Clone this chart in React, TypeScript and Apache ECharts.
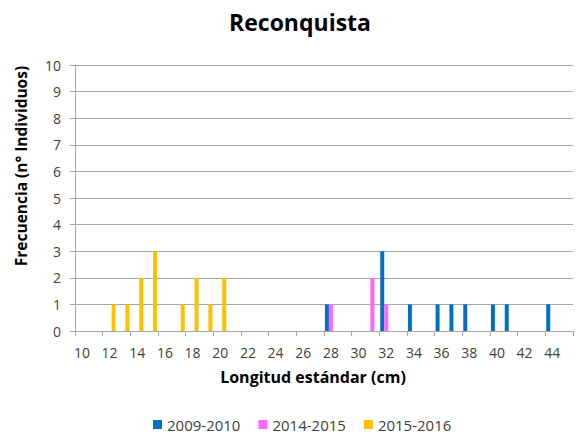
import React, { useEffect, useRef } from "react";
import * as echarts from "echarts";

const categories = [
  "10","11","12","13","14","15","16","17","18","19",
  "20","21","22","23","24","25","26","27","28","29",
  "30","31","32","33","34","35","36","37","38","39",
  "40","41","42","43","44","45",
];
const s2009 = [
  0,0,0,0,0,0,0,0,0,0,
  0,0,0,0,0,0,0,0,1,0,
  0,0,3,0,1,0,1,1,1,0,
  1,1,0,0,1,0,
];
const s2014 = [
  0,0,0,0,0,0,0,0,0,0,
  0,0,0,0,0,0,0,0,1,0,
  0,2,1,0,0,0,0,0,0,0,
  0,0,0,0,0,0,
];
const s2015 = [
  0,0,1,1,2,3,0,1,2,1,
  2,0,0,0,0,0,0,0,0,0,
  0,0,0,0,0,0,0,0,0,0,
  0,0,0,0,0,0,
];
const seriesNames = ["2009-2010", "2014-2015", "2015-2016"];
const colors = ["#0070C0", "#FF66FF", "#FFC000"];

const FONT = "Open Sans";

export default function App() {
  const ref = useRef<HTMLDivElement>(null);
  useEffect(() => {
    if (!ref.current) return;
    const chart = echarts.init(ref.current, null, { renderer: "svg" });
    const data = [s2009, s2014, s2015];
    chart.setOption({
      animation: false,
      backgroundColor: "#fff",
      textStyle: { fontFamily: FONT },
      title: {
        text: "Reconquista",
        left: 295,
        top: 5,
        textAlign: "center",
        textStyle: { fontFamily: FONT, fontSize: 23, fontWeight: "bold", color: "#000" },
      },
      legend: {
        top: 412,
        left: 148,
        itemWidth: 9,
        itemHeight: 9,
        itemGap: 18,
        icon: "rect",
        textStyle: { fontFamily: FONT, fontSize: 15, color: "#404040" },
        data: seriesNames,
      },
      grid: { left: 75, right: 8, top: 65, bottom: 103, containLabel: false },
      graphic: [
        {
          type: "text",
          x: 21,
          y: 166,
          rotation: Math.PI / 2,
          style: {
            text: "Frecuencia (n° Individuos)",
            fontFamily: FONT,
            fontSize: 15.5,
            fontWeight: "bold",
            fill: "#000",
            align: "center",
            verticalAlign: "middle",
          },
        },
      ],
      xAxis: {
        type: "category",
        data: categories,
        name: "Longitud estándar (cm)",
        nameLocation: "middle",
        nameGap: 38,
        nameTextStyle: {
          fontFamily: FONT,
          fontSize: 16,
          fontWeight: "bold",
          color: "#000",
          padding: [0, 22, 0, 0],
        },
        axisLine: { lineStyle: { color: "#A6A6A6", width: 1 } },
        axisTick: { show: true, interval: 1, length: 5, lineStyle: { color: "#A6A6A6" } },
        axisLabel: { interval: 1, fontSize: 14, color: "#404040", margin: 14, fontFamily: FONT },
      },
      yAxis: {
        type: "value",
        min: 0,
        max: 10,
        interval: 1,
        axisLine: { show: true, lineStyle: { color: "#A6A6A6", width: 1 } },
        axisTick: { show: true, length: 5, lineStyle: { color: "#A6A6A6" } },
        axisLabel: { fontSize: 14, color: "#404040", margin: 14, fontFamily: FONT },
        splitLine: { lineStyle: { color: "#A6A6A6", width: 1 } },
      },
      series: seriesNames.map((n, i) => ({
        name: n,
        type: "bar",
        data: data[i],
        barWidth: 4,
        barGap: "0%",
        itemStyle: { color: colors[i] },
      })),
    });
    return () => chart.dispose();
  }, []);
  return (
    <div
      ref={ref}
      style={{ position: "absolute", left: 0, top: 0, width: 581, height: 434 }}
    />
  );
}
